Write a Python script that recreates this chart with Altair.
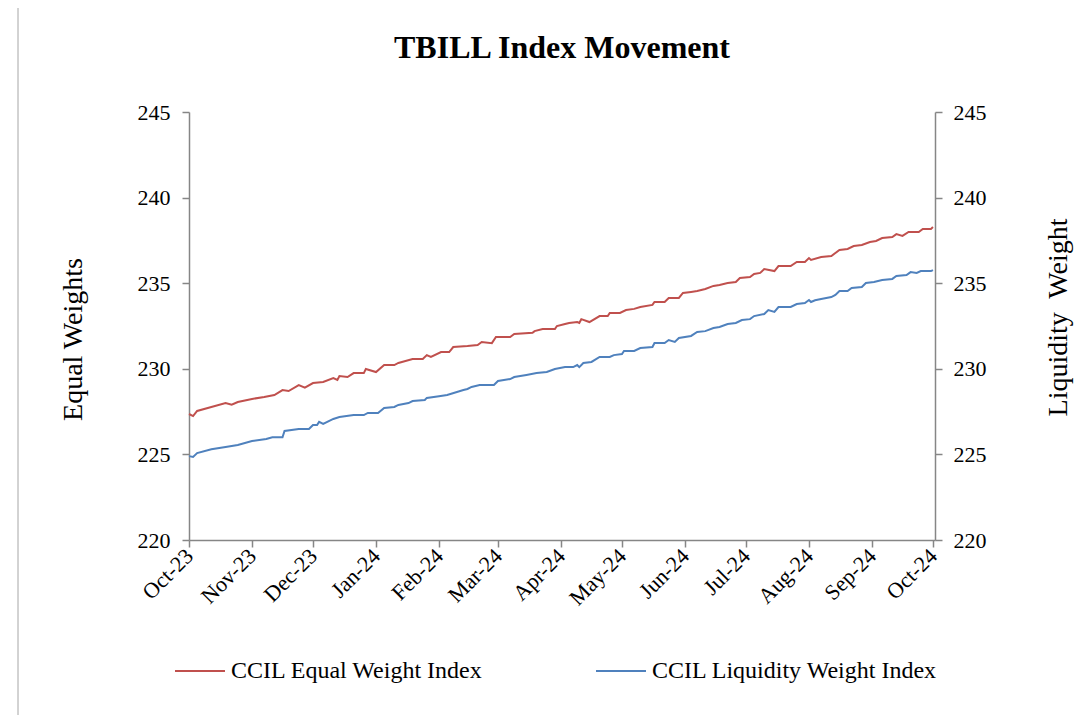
import altair as alt
import pandas as pd

TITLE = "TBILL Index Movement"
SERIES = ["CCIL Equal Weight Index", "CCIL Liquidity Weight Index"]
COLORS = ["#C0504D", "#4F81BD"]

equal_dates = ["2023-10-01","2023-10-03","2023-10-05","2023-10-12","2023-10-19","2023-10-22","2023-10-25","2023-11-01","2023-11-07","2023-11-12","2023-11-16","2023-11-19","2023-11-24","2023-11-27","2023-12-01","2023-12-06","2023-12-11","2023-12-13","2023-12-14","2023-12-18","2023-12-21","2023-12-26","2023-12-27","2024-01-01","2024-01-05","2024-01-10","2024-01-12","2024-01-19","2024-01-24","2024-01-26","2024-01-28","2024-02-02","2024-02-06","2024-02-08","2024-02-15","2024-02-20","2024-02-22","2024-02-27","2024-02-29","2024-03-07","2024-03-09","2024-03-18","2024-03-19","2024-03-23","2024-03-29","2024-03-30","2024-04-03","2024-04-05","2024-04-09","2024-04-10","2024-04-11","2024-04-15","2024-04-20","2024-04-24","2024-04-25","2024-04-30","2024-05-03","2024-05-07","2024-05-10","2024-05-16","2024-05-17","2024-05-22","2024-05-24","2024-05-29","2024-05-31","2024-06-04","2024-06-07","2024-06-11","2024-06-15","2024-06-18","2024-06-22","2024-06-26","2024-06-28","2024-07-03","2024-07-05","2024-07-08","2024-07-10","2024-07-15","2024-07-17","2024-07-23","2024-07-26","2024-07-30","2024-08-01","2024-08-02","2024-08-07","2024-08-12","2024-08-16","2024-08-20","2024-08-23","2024-08-27","2024-08-31","2024-09-03","2024-09-06","2024-09-11","2024-09-13","2024-09-16","2024-09-19","2024-09-24","2024-09-26","2024-09-30","2024-10-01"]
equal_values = [227.36,227.24,227.54,227.77,228.00,227.90,228.06,228.24,228.35,228.47,228.76,228.70,229.05,228.90,229.17,229.23,229.46,229.35,229.58,229.52,229.75,229.75,229.99,229.81,230.22,230.22,230.34,230.57,230.57,230.80,230.69,230.98,230.98,231.27,231.33,231.39,231.57,231.50,231.86,231.86,232.03,232.10,232.20,232.32,232.32,232.50,232.62,232.68,232.73,232.68,232.90,232.73,233.08,233.08,233.26,233.26,233.43,233.50,233.61,233.73,233.90,233.90,234.14,234.14,234.43,234.49,234.54,234.66,234.84,234.90,235.01,235.07,235.30,235.36,235.54,235.60,235.83,235.71,236.00,236.00,236.24,236.24,236.47,236.36,236.53,236.59,236.94,237.00,237.17,237.23,237.41,237.47,237.64,237.70,237.87,237.76,237.99,237.99,238.17,238.17,238.28]

liq_dates = ["2023-10-01","2023-10-03","2023-10-05","2023-10-12","2023-10-19","2023-10-25","2023-11-01","2023-11-08","2023-11-11","2023-11-16","2023-11-17","2023-11-24","2023-11-29","2023-12-01","2023-12-03","2023-12-04","2023-12-06","2023-12-11","2023-12-14","2023-12-21","2023-12-26","2023-12-28","2024-01-02","2024-01-05","2024-01-10","2024-01-12","2024-01-17","2024-01-19","2024-01-25","2024-01-26","2024-02-01","2024-02-05","2024-02-13","2024-02-15","2024-02-17","2024-02-21","2024-02-28","2024-03-01","2024-03-07","2024-03-09","2024-03-15","2024-03-20","2024-03-25","2024-03-29","2024-04-03","2024-04-07","2024-04-09","2024-04-10","2024-04-12","2024-04-16","2024-04-20","2024-04-25","2024-04-27","2024-05-01","2024-05-02","2024-05-07","2024-05-10","2024-05-16","2024-05-17","2024-05-22","2024-05-24","2024-05-27","2024-05-29","2024-06-04","2024-06-07","2024-06-11","2024-06-15","2024-06-18","2024-06-22","2024-06-26","2024-06-29","2024-07-03","2024-07-05","2024-07-10","2024-07-12","2024-07-15","2024-07-17","2024-07-23","2024-07-26","2024-07-30","2024-08-01","2024-08-02","2024-08-04","2024-08-07","2024-08-12","2024-08-14","2024-08-16","2024-08-20","2024-08-22","2024-08-27","2024-08-29","2024-09-02","2024-09-06","2024-09-11","2024-09-13","2024-09-18","2024-09-20","2024-09-23","2024-09-25","2024-09-30","2024-10-01"]
liq_values = [224.90,224.85,225.08,225.30,225.43,225.55,225.78,225.90,226.00,226.00,226.37,226.48,226.48,226.72,226.72,226.90,226.78,227.07,227.18,227.30,227.30,227.42,227.42,227.71,227.77,227.89,228.00,228.12,228.18,228.30,228.40,228.47,228.76,228.82,228.94,229.05,229.05,229.29,229.40,229.52,229.64,229.75,229.81,229.99,230.10,230.10,230.22,230.10,230.34,230.40,230.69,230.69,230.80,230.86,231.04,231.04,231.21,231.27,231.50,231.50,231.68,231.57,231.80,231.92,232.15,232.20,232.38,232.44,232.62,232.68,232.85,232.90,233.08,233.20,233.43,233.32,233.61,233.61,233.78,233.84,234.02,233.90,234.00,234.08,234.19,234.31,234.54,234.54,234.72,234.78,235.01,235.07,235.19,235.25,235.42,235.48,235.65,235.60,235.71,235.71,235.77]

month_ticks = [(2023, m) for m in (10, 11, 12)] + [(2024, m) for m in range(1, 11)]
y_ticks = [220, 225, 230, 235, 240, 245]

df_equal = pd.DataFrame({"date": equal_dates, "value": equal_values, "series": SERIES[0]})
df_liq = pd.DataFrame({"date": liq_dates, "value": liq_values, "series": SERIES[1]})

FONT = "Liberation Serif"
GRAY = "#868686"

x_enc = alt.X(
    "date:T",
    scale=alt.Scale(type="utc", domain=[alt.DateTime(year=2023, month=10, date=1, utc=True),
                                        alt.DateTime(year=2024, month=10, date=2, utc=True)]),
    axis=alt.Axis(
        values=[alt.DateTime(year=y, month=m, date=1, utc=True) for y, m in month_ticks],
        labelExpr="utcFormat(datum.value, '%b-%y')",
        labelAngle=315, labelAlign="right", labelBaseline="middle",
        labelPadding=5, labelFont=FONT, labelFontSize=22, labelColor="black",
        tickSize=7, tickColor=GRAY, tickWidth=1.5, domainColor=GRAY, domainWidth=1.5,
        grid=False, title=None, labelOverlap=False, labelFlush=False,
    ),
)

color_enc = alt.Color(
    "series:N",
    scale=alt.Scale(domain=SERIES, range=COLORS),
    legend=alt.Legend(
        title=None, orient="none", direction="horizontal", legendX=-15, legendY=533,
        symbolType="stroke", symbolSize=2500, symbolStrokeWidth=2,
        labelFont=FONT, labelFontSize=24, labelColor="black", labelOffset=5,
        columnPadding=108, labelLimit=400,
    ),
)

def yaxis(orient, title, tx, ty, pad):
    return alt.Axis(
        orient=orient, values=y_ticks, title=title, titleFont=FONT, titleFontSize=28,
        titleFontWeight="normal", titleColor="black", titleAngle=270, titleX=tx, titleY=ty,
        titleAlign="center", titleBaseline="middle",
        labelFont=FONT, labelFontSize=22, labelColor="black", labelPadding=pad,
        tickSize=7, tickColor=GRAY, tickWidth=1.5, domainColor=GRAY, domainWidth=1.5, grid=False,
    )

equal_line = alt.Chart(df_equal).mark_line(strokeWidth=2).encode(
    x=x_enc,
    y=alt.Y("value:Q", scale=alt.Scale(domain=[220, 245], nice=False, zero=False),
            axis=yaxis("left", "Equal Weights", -116, 227, 12)),
    color=color_enc,
)

liq_line = alt.Chart(df_liq).mark_line(strokeWidth=2).encode(
    x=x_enc,
    y=alt.Y("value:Q", scale=alt.Scale(domain=[220, 245], nice=False, zero=False),
            axis=yaxis("right", "Liquidity\u00a0 Weight", 123, 205, 11)),
    color=color_enc,
)

# outer chart-area border on the left edge
border = alt.Chart(pd.DataFrame({"edge": [0]})).mark_rule(
    color="#A6A6A6", strokeWidth=1, clip=False
).encode(x=alt.value(-171), y=alt.value(-112), y2=alt.value(603))

# chart title, drawn as a text mark centred over the plot
title = alt.Chart(pd.DataFrame({"title": [TITLE]})).mark_text(
    font=FONT, fontSize=32, fontWeight="bold", color="black",
    align="center", baseline="alphabetic", clip=False,
).encode(text="title:N", x=alt.value(373), y=alt.value(-54))

chart = alt.layer(equal_line, liq_line, border, title).resolve_scale(y="independent").properties(
    width=746, height=428,
    autosize=alt.AutoSizeParams(type="none"),
    padding={"left": 181, "top": 104, "right": 140, "bottom": 180},
).configure(background="white").configure_view(stroke=None)

chart.save("out.html", embed_options={"renderer": "svg", "actions": False})
